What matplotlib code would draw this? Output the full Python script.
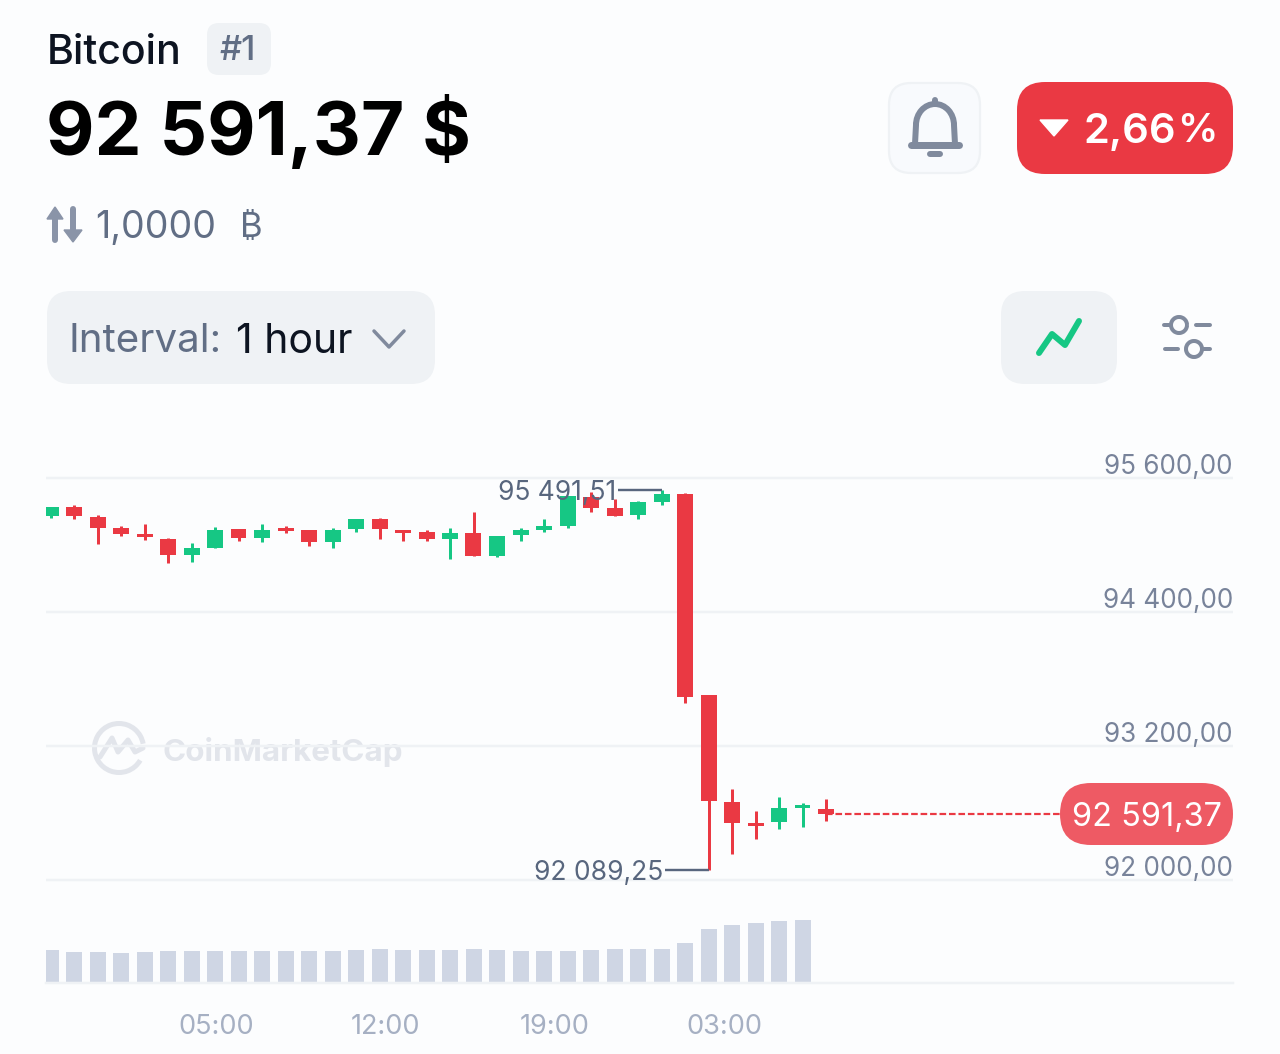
import matplotlib

matplotlib.use("Agg")

import matplotlib.pyplot as plt
from matplotlib.patches import Arc, FancyBboxPatch, Polygon

plt.rcParams["font.family"] = ["Inter", "Noto Sans", "DejaVu Sans"]

W, H = 1280, 1054
BG = "#fcfdfe"
GREEN = "#16c784"
RED = "#ea3943"
GRID = "#eff2f5"
ICON = "#808a9d"
TEXT = "#0d1421"
MUTED = "#616e85"

OPENS = [95260, 95337, 95251, 95149, 95095, 95057, 94910, 94976, 95140, 95060, 95149,
         95131, 95024, 95146, 95230, 95134, 95119, 95051, 95110, 94904, 95086, 95137,
         95170, 95433, 95328, 95266, 95388, 95454, 93654, 92696, 92508, 92519, 92645, 92638]
HIGHS = [95337, 95361, 95269, 95167, 95185, 95063, 95015, 95161, 95140, 95185, 95167,
         95137, 95152, 95236, 95242, 95134, 95134, 95149, 95295, 95083, 95152, 95233,
         95442, 95475, 95409, 95397, 95491.51, 95463, 93659, 92815, 92620, 92743, 92690, 92723]
LOWS = [95239, 95236, 95009, 95083, 95048, 94836, 94848, 94976, 95039, 95024, 95107,
        94994, 94976, 95116, 95057, 95033, 95039, 94872, 94904, 94889, 95039, 95113,
        95152, 95295, 95260, 95236, 95361, 93588, 92089.25, 92230, 92364, 92459, 92472, 92531]
CLOSES = [95337, 95263, 95155, 95101, 95075, 94910, 94970, 95137, 95060, 95137, 95128,
          95027, 95137, 95230, 95143, 95110, 95054, 95107, 94904, 95083, 95137, 95167,
          95442, 95334, 95260, 95382, 95454, 93636, 92705, 92510, 92486, 92642, 92669, 92591.37]
VOLUMES = [32.9, 31.2, 30.9, 30.5, 30.9, 31.6, 31.6, 31.6, 31.6, 31.9, 31.9, 32.2, 31.9, 32.6,
           33.6, 33.2, 32.9, 33.2, 34.2, 32.6, 31.6, 31.6, 32.2, 33.2, 33.6, 33.6, 33.6, 40.1,
           54.3, 57.6, 59.9, 61.7, 63.3]
PRICE_TICKS = [92000, 93200, 94400, 95600]
PRICE_LABELS = ["92 000,00", "93 200,00", "94 400,00", "95 600,00"]
TIME_TICKS = [7.04, 14.27, 21.47, 28.68]
TIME_LABELS = ["05:00", "12:00", "19:00", "03:00"]
LAST_PRICE = 92591.37

# one candle slot is 23.5 px, first candle is centred on x=50.5
SLOT = 23.5
X0 = 50.5
LEFT, RIGHT = 46, 1233
XLIM = ((LEFT - X0) / SLOT, (RIGHT - X0) / SLOT)
PX = 72 / 100  # points per pixel at dpi=100


def box(ax, x0, y0, x1, y1, radius, face, edge="none", lw=0):
    ax.add_patch(FancyBboxPatch((x0, y0), x1 - x0, y1 - y0,
                                boxstyle=f"round,pad=0,rounding_size={radius}",
                                facecolor=face, edgecolor=edge, linewidth=lw))


def stroke(ax, xs, ys, color=ICON, width=4, **kwargs):
    ax.plot(xs, ys, color=color, lw=width * PX, solid_capstyle="round",
            solid_joinstyle="round", **kwargs)


def draw_header(ui):
    ui.text(47, 49, "Bitcoin", fontsize=29.6, color=TEXT, va="center_baseline", fontweight="medium")
    box(ui, 207, 23, 271, 75, 12, GRID)
    ui.text(238, 48, "#1", fontsize=25, color=MUTED, ha="center", va="center_baseline", fontweight="medium")
    ui.text(46, 125, "92 591,37 $", fontsize=53.8, color="#000000", va="center_baseline", fontweight="bold")

    # swap arrows
    arrow = "#8a94a8"
    stroke(ui, [55, 55], [240, 212], arrow, 6)
    ui.add_patch(Polygon([(47, 219), (63, 219), (55, 207)], color=arrow))
    stroke(ui, [73, 73], [209, 236], arrow, 6)
    ui.add_patch(Polygon([(64, 230), (82, 230), (73, 242)], color=arrow))
    ui.text(95, 224, "1,0000", fontsize=27, color=MUTED, va="center_baseline")
    ui.text(251, 225, "₿", fontsize=25, color=MUTED, ha="center", va="center_baseline")

    # bell button
    box(ui, 889, 83, 980, 173, 22, "#f8fafd", GRID, 1.6)
    ui.add_patch(Arc((935, 125), 38, 42, theta1=180, theta2=360, color=ICON, lw=6 * PX))
    stroke(ui, [916, 915], [125, 144], ICON, 6)
    stroke(ui, [954, 955], [125, 144], ICON, 6)
    stroke(ui, [911, 959], [145, 145], ICON, 7)
    stroke(ui, [935, 935], [100, 104], ICON, 6)
    stroke(ui, [930, 940], [154, 154], ICON, 6)

    # change badge
    box(ui, 1017, 82, 1233, 174, 28, RED)
    ui.add_patch(Polygon([(1040, 120), (1068, 120), (1054, 136)], color="white"))
    ui.text(1084, 128, "2,66", fontsize=30, color="white", va="center_baseline", fontweight="semibold")
    ui.text(1218, 128, "%", fontsize=29, color="white", ha="right", va="center_baseline", fontweight="semibold")

    # interval selector
    box(ui, 47, 291, 435, 384, 24, GRID)
    ui.text(69, 338, "Interval:", fontsize=29, color=MUTED, va="center_baseline")
    ui.text(236, 338, "1 hour", fontsize=29.5, color=TEXT, va="center_baseline")
    stroke(ui, [374, 389, 404], [331, 347, 331], ICON, 3.5)

    # chart type button and settings
    box(ui, 1001, 291, 1117, 384, 24, GRID)
    stroke(ui, [1039, 1052, 1065, 1079], [353, 334, 345, 321], GREEN, 6)
    stroke(ui, [1164, 1171], [325, 325], ICON, 4)
    stroke(ui, [1196, 1210], [325, 325], ICON, 4)
    stroke(ui, [1165, 1178], [349, 349], ICON, 4)
    stroke(ui, [1203, 1210], [349, 349], ICON, 4)
    ui.add_patch(Arc((1179, 325), 16, 16, color=ICON, lw=4 * PX))
    ui.add_patch(Arc((1194, 349), 16, 16, color=ICON, lw=4 * PX))


def draw_watermark(ui):
    mark = "#e2e5eb"
    ui.add_patch(Arc((119, 748), 49, 49, theta1=30, theta2=350, color=mark, lw=5 * PX))
    stroke(ui, [100, 112, 118, 128, 135, 143], [757, 738, 752, 740, 752, 748], mark, 5)
    ui.text(162, 749, "CoinMarketCap", fontsize=22.6, color=mark, fontweight="bold", va="center_baseline")


def draw_candles(ax):
    ax.set_xlim(*XLIM)
    ax.set_ylim(PRICE_TICKS[0], PRICE_TICKS[-1])
    ax.patch.set_alpha(0)
    for spine in ax.spines.values():
        spine.set_visible(False)
    ax.set_xticks([])
    ax.set_yticks([])
    ax.hlines(PRICE_TICKS, *XLIM, color=GRID, lw=2.5 * PX, clip_on=False, zorder=1)

    # price labels sit just above their grid lines, flush right
    for tick, text in zip(PRICE_TICKS, PRICE_LABELS):
        ax.annotate(text, xy=(1, tick), xycoords=("axes fraction", "data"), xytext=(0, 4 * PX),
                    textcoords="offset points", ha="right", va="baseline", fontsize=18.8,
                    color="#78839a", annotation_clip=False)

    for i, (o, h, l, c) in enumerate(zip(OPENS, HIGHS, LOWS, CLOSES)):
        color = GREEN if c >= o else RED
        ax.vlines(i, l, h, color=color, lw=3 * PX, zorder=3)
        ax.bar(i, abs(c - o), bottom=min(o, c), width=16 / SLOT, color=color, zorder=3)

    last = len(CLOSES) - 1
    ax.hlines(LAST_PRICE, last, (1060 - X0) / SLOT, color=RED, lw=2.2 * PX,
              linestyles=(0, (3, 1.3)), zorder=2)

    # high / low callouts
    for i, price, text in [(26, max(HIGHS), "95 491,51"), (28, min(LOWS), "92 089,25")]:
        ax.hlines(price, i - 44 / SLOT, i, color="#58667e", lw=2.4 * PX, zorder=4)
        ax.annotate(text, xy=(i - 44 / SLOT, price), xytext=(-1 * PX, 0), textcoords="offset points",
                    ha="right", va="center_baseline", fontsize=19, color="#58667e", zorder=5)


def draw_volume(ax):
    ax.set_xlim(*XLIM)
    ax.set_ylim(0, 100)
    ax.patch.set_alpha(0)
    for name, spine in ax.spines.items():
        spine.set_visible(name == "bottom")
    ax.spines["bottom"].set_color(GRID)
    ax.spines["bottom"].set_linewidth(2.5 * PX)
    ax.set_yticks([])
    ax.bar(range(len(VOLUMES)), VOLUMES, width=16 / SLOT, color="#cfd6e4", zorder=2)
    ax.set_xticks(TIME_TICKS, TIME_LABELS)
    ax.tick_params(axis="x", length=0, pad=22, labelsize=19.5, labelcolor="#a6b0c3")


fig = plt.figure(figsize=(W / 100, H / 100), dpi=100, facecolor=BG)

ui = fig.add_axes([0, 0, 1, 1])
ui.set_xlim(0, W)
ui.set_ylim(H, 0)
ui.axis("off")
draw_header(ui)
draw_watermark(ui)

price_ax = fig.add_axes([LEFT / W, (H - 880) / H, (RIGHT - LEFT) / W, (880 - 478) / H])
draw_candles(price_ax)

volume_ax = fig.add_axes([LEFT / W, (H - 983) / H, (RIGHT - LEFT) / W, 100 / H])
draw_volume(volume_ax)

# last price pill sits on top of everything
pill_ax = fig.add_axes([0, 0, 1, 1])
pill_ax.set_xlim(0, W)
pill_ax.set_ylim(H, 0)
pill_ax.axis("off")
box(pill_ax, 1060, 783, 1233, 845, 31, "#ee5a64")
pill_ax.text(1147, 814, f"{LAST_PRICE:,.2f}".replace(",", " ").replace(".", ","), fontsize=23.4,
             color="white", ha="center", va="center_baseline")

fig.savefig("out.png", dpi=100, facecolor=BG)
